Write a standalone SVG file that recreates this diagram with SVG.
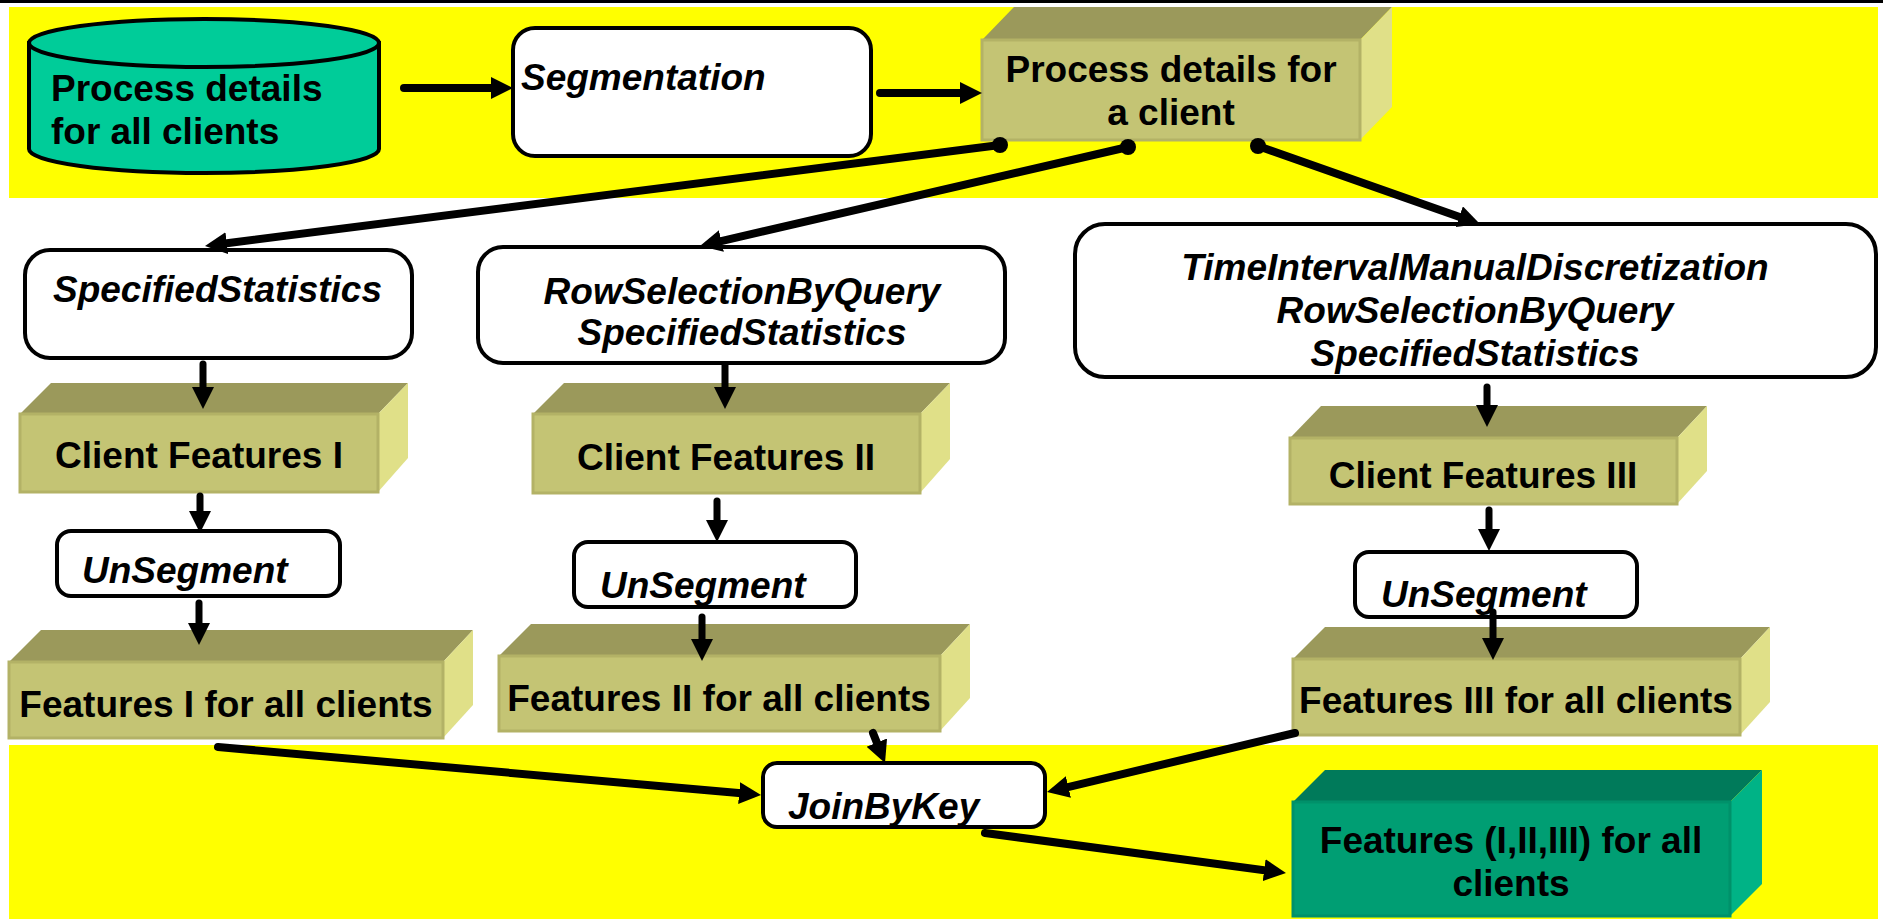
<svg xmlns="http://www.w3.org/2000/svg" width="1883" height="923" viewBox="0 0 1883 923">
<style>
  .band{fill:#FFFF00}
  .t{font-family:"Liberation Sans",Arial,sans-serif;font-weight:bold;font-size:37px;fill:#000}
  .i{font-style:italic}
  .op{fill:#fff;stroke:#000;stroke-width:4}
  .front{fill:#C4C474;stroke:#B3B266;stroke-width:3}
  .top{fill:#9B995B}
  .side{fill:#E0E088}
  .gfront{fill:#009E73;stroke:#00916A;stroke-width:3}
  .gtop{fill:#007A5A}
  .gside{fill:#00B386}
  .c{stroke:#000;stroke-width:8;fill:none;stroke-linecap:round;marker-end:url(#ah)}
  .v{stroke:#000;stroke-width:7;fill:none;stroke-linecap:round;marker-end:url(#ah)}
</style>
<defs>
  <marker id="ah" markerUnits="userSpaceOnUse" markerWidth="24" markerHeight="24" refX="8" refY="11" orient="auto">
    <path d="M0,0 L22,11 L0,22 z" fill="#000"/>
  </marker>
</defs>
<rect x="0" y="0" width="1883" height="923" fill="#fff"/>
<rect x="0" y="0" width="1883" height="3" fill="#000"/>
<rect class="band" x="9" y="7" width="1869" height="191"/>
<rect class="band" x="9" y="745" width="1869" height="174"/>

<g id="source">
  <path d="M29,43 L29,149 A175,24 0 0 0 379,149 L379,43 Z" fill="#00CC99" stroke="#000" stroke-width="4"/>
  <ellipse cx="204" cy="43" rx="175" ry="24" fill="#00CC99" stroke="#000" stroke-width="4"/>
  <text class="t" x="51" y="101">Process details</text>
  <text class="t" x="51" y="144">for all clients</text>
</g>

<g id="segmentation">
  <rect class="op" x="513" y="28" width="358" height="128" rx="22"/>
  <text class="t i" x="521" y="90">Segmentation</text>
</g>

<g id="client">
  <polygon class="top" points="982,40 1014,7 1392,7 1360,40"/>
  <polygon class="side" points="1360,40 1392,7 1392,107 1360,140"/>
  <rect class="front" x="982" y="40" width="378" height="100"/>
  <text class="t" x="1171" y="82" text-anchor="middle">Process details for</text>
  <text class="t" x="1171" y="125" text-anchor="middle">a client</text>
</g>

<g id="stat1">
  <rect class="op" x="25" y="250" width="387" height="108" rx="25"/>
  <text class="t i" x="53" y="302">SpecifiedStatistics</text>
</g>

<g id="stat2">
  <rect class="op" x="478" y="247" width="527" height="116" rx="25"/>
  <text class="t i" x="742" y="304" text-anchor="middle">RowSelectionByQuery</text>
  <text class="t i" x="742" y="345" text-anchor="middle">SpecifiedStatistics</text>
</g>

<g id="stat3">
  <rect class="op" x="1075" y="224" width="801" height="153" rx="30"/>
  <text class="t i" x="1475" y="280" text-anchor="middle">TimeIntervalManualDiscretization</text>
  <text class="t i" x="1475" y="323" text-anchor="middle">RowSelectionByQuery</text>
  <text class="t i" x="1475" y="366" text-anchor="middle">SpecifiedStatistics</text>
</g>

<g id="cf1">
  <polygon class="top" points="20,414 51,383 408,383 378,414"/>
  <polygon class="side" points="378,414 408,383 408,458 378,492"/>
  <rect class="front" x="20" y="414" width="358" height="78"/>
  <text class="t" x="199" y="468" text-anchor="middle">Client Features I</text>
</g>

<g id="cf2">
  <polygon class="top" points="533,414 564,383 950,383 920,414"/>
  <polygon class="side" points="920,414 950,383 950,459 920,493"/>
  <rect class="front" x="533" y="414" width="387" height="79"/>
  <text class="t" x="726" y="470" text-anchor="middle">Client Features II</text>
</g>

<g id="cf3">
  <polygon class="top" points="1290,438 1321,406 1707,406 1677,438"/>
  <polygon class="side" points="1677,438 1707,406 1707,471 1677,504"/>
  <rect class="front" x="1290" y="438" width="387" height="66"/>
  <text class="t" x="1483" y="488" text-anchor="middle">Client Features III</text>
</g>

<g id="unseg1">
  <rect class="op" x="57" y="531" width="283" height="65" rx="14"/>
  <text class="t i" x="82" y="583">UnSegment</text>
</g>

<g id="unseg2">
  <rect class="op" x="574" y="542" width="282" height="65" rx="14"/>
  <text class="t i" x="600" y="598">UnSegment</text>
</g>

<g id="unseg3">
  <rect class="op" x="1355" y="552" width="282" height="65" rx="14"/>
  <text class="t i" x="1381" y="607">UnSegment</text>
</g>

<g id="feat1">
  <polygon class="top" points="9,662 41,630 473,630 443,662"/>
  <polygon class="side" points="443,662 473,630 473,705 443,738"/>
  <rect class="front" x="9" y="662" width="434" height="76"/>
  <text class="t" x="226" y="717" text-anchor="middle">Features I for all clients</text>
</g>

<g id="feat2">
  <polygon class="top" points="499,656 531,624 970,624 940,656"/>
  <polygon class="side" points="940,656 970,624 970,698 940,731"/>
  <rect class="front" x="499" y="656" width="441" height="75"/>
  <text class="t" x="719" y="711" text-anchor="middle">Features II for all clients</text>
</g>

<g id="feat3">
  <polygon class="top" points="1293,659 1325,627 1770,627 1740,659"/>
  <polygon class="side" points="1740,659 1770,627 1770,702 1740,735"/>
  <rect class="front" x="1293" y="659" width="447" height="76"/>
  <text class="t" x="1516" y="713" text-anchor="middle">Features III for all clients</text>
</g>

<g id="join">
  <rect class="op" x="763" y="763" width="282" height="64" rx="14"/>
  <text class="t i" x="788" y="819">JoinByKey</text>
</g>

<g id="result">
  <polygon class="gtop" points="1293,802 1325,770 1762,770 1730,802"/>
  <polygon class="gside" points="1730,802 1762,770 1762,884 1730,916"/>
  <rect class="gfront" x="1293" y="802" width="437" height="114"/>
  <text class="t" x="1511" y="853" text-anchor="middle">Features (I,II,III) for all</text>
  <text class="t" x="1511" y="896" text-anchor="middle">clients</text>
</g>

<g id="connectors">
  <line class="c" x1="404" y1="88" x2="499" y2="88"/>
  <line class="c" x1="880" y1="93" x2="968" y2="93"/>
  <line class="c" x1="1000" y1="145" x2="218.9" y2="244.2"/>
  <line class="c" x1="1128" y1="147" x2="713.6" y2="242.8"/>
  <line class="c" x1="1258" y1="146" x2="1466.8" y2="219.4"/>
  <circle cx="1000" cy="145" r="8" fill="#000"/>
  <circle cx="1128" cy="147" r="8" fill="#000"/>
  <circle cx="1258" cy="146" r="8" fill="#000"/>
  <line class="v" x1="203" y1="364" x2="203" y2="395"/>
  <line class="v" x1="200" y1="496" x2="200" y2="519"/>
  <line class="v" x1="199" y1="603" x2="199" y2="631"/>
  <line class="v" x1="725" y1="365" x2="725" y2="395"/>
  <line class="v" x1="717" y1="501" x2="717" y2="528"/>
  <line class="v" x1="702" y1="617" x2="702" y2="647"/>
  <line class="v" x1="1487" y1="387" x2="1487" y2="413"/>
  <line class="v" x1="1489" y1="510" x2="1489" y2="537"/>
  <line class="v" x1="1493" y1="612" x2="1493" y2="646"/>
  <line class="c" x1="218" y1="747" x2="747.1" y2="793.8"/>
  <line class="c" x1="873" y1="733" x2="879.8" y2="750"/>
  <line class="c" x1="1295" y1="733" x2="1060.6" y2="788.8"/>
  <line class="c" x1="985" y1="833" x2="1272.1" y2="871.2"/>
</g>
</svg>
